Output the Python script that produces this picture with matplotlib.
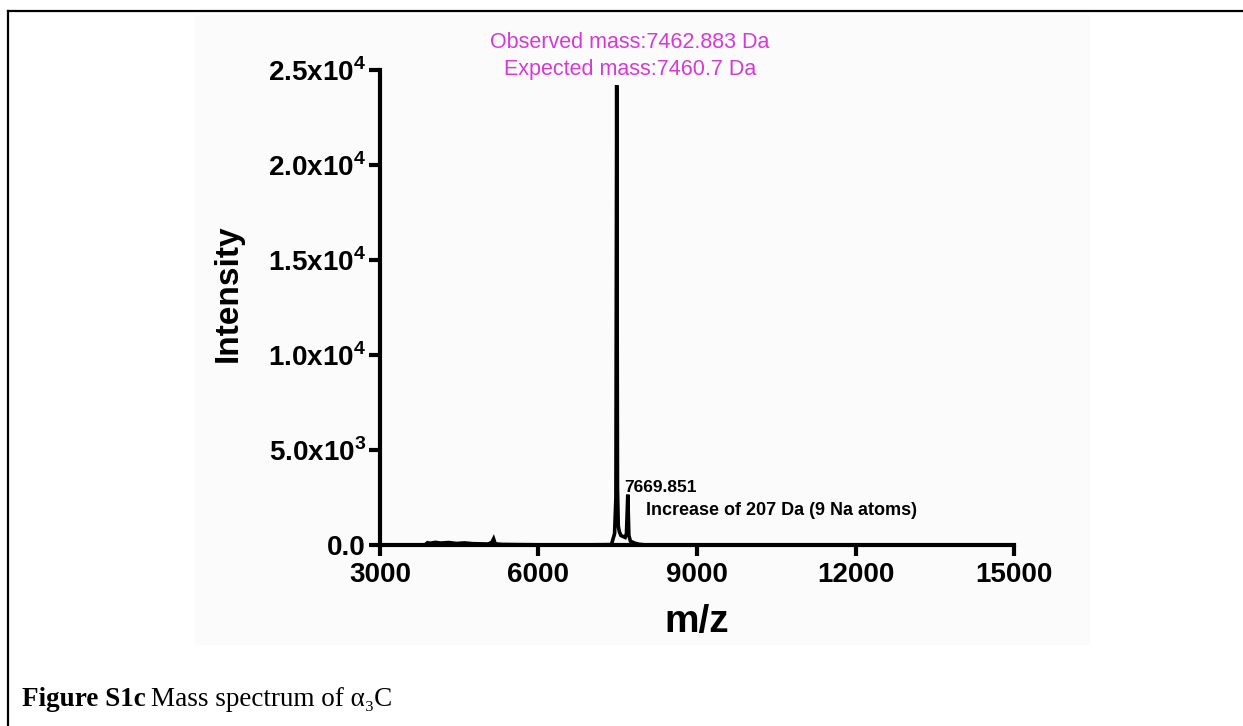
import matplotlib
matplotlib.use('Agg')
import matplotlib.pyplot as plt
from matplotlib.patches import Rectangle
from matplotlib.lines import Line2D

plt.rcParams['font.family'] = ['Liberation Sans', 'DejaVu Sans']
plt.rcParams['mathtext.fontset'] = 'custom'
plt.rcParams['mathtext.bf'] = 'Liberation Sans:bold'
plt.rcParams['mathtext.rm'] = 'Liberation Sans'

# spectrum (m/z, intensity)
mz = [3850, 3900, 3950, 4050, 4150, 4300, 4450, 4600, 4750, 4900, 5050, 5120, 5150, 5180,
      5300, 5600, 6000, 6500, 7000, 7380, 7440, 7465, 7480, 7495, 7510, 7530, 7560,
      7600, 7640, 7665, 7690, 7710, 7740, 7780, 7820, 7900, 8000, 9000, 12000, 15000]
intensity = [0, 120, 90, 140, 100, 130, 80, 110, 70, 60, 50, 150, 320, 60,
             30, 20, 10, 10, 10, 20, 600, 2500, 24200, 3000, 1000, 700, 500,
             450, 400, 600, 2650, 500, 200, 150, 100, 40, 10, 0, 0, 0]

x_ticks = [3000, 6000, 9000, 12000, 15000]
x_tick_labels = ['3000', '6000', '9000', '12000', '15000']
y_ticks = [0, 5000, 10000, 15000, 20000, 25000]
y_tick_labels = ['0.0', r'5.0x10$^{\mathbf{3}}$', r'1.0x10$^{\mathbf{4}}$',
                 r'1.5x10$^{\mathbf{4}}$', r'2.0x10$^{\mathbf{4}}$', r'2.5x10$^{\mathbf{4}}$']

fig = plt.figure(figsize=(12.43, 7.26), dpi=100)

# faint grey panel behind the chart and the page frame
fig.patches.append(Rectangle((0.157, 0.112), 0.72, 0.867, transform=fig.transFigure,
                             facecolor='#fbfbfb', edgecolor='none', zorder=-10))
fig.lines.append(Line2D([0.0064, 1.0], [0.985, 0.985], transform=fig.transFigure, color='black', lw=1.6))
fig.lines.append(Line2D([0.0064, 0.0064], [0.0, 0.985], transform=fig.transFigure, color='black', lw=1.6))

ax = fig.add_axes([0.3057, 0.2493, 0.5101, 0.6543])
ax.set_facecolor('none')
ax.plot(mz, intensity, color='black', lw=2.6, solid_joinstyle='miter')

ax.set_xlim(3000, 15000)
ax.set_ylim(0, 25000)
ax.set_xticks(x_ticks)
ax.set_xticklabels(x_tick_labels)
ax.set_yticks(y_ticks)
ax.set_yticklabels(y_tick_labels)
ax.tick_params(axis='both', length=8, width=3, labelsize=20)
ax.tick_params(axis='x', pad=4)
ax.tick_params(axis='y', pad=2)
for lab in ax.get_xticklabels() + ax.get_yticklabels():
    lab.set_fontweight('bold')

for side in ['top', 'right']:
    ax.spines[side].set_visible(False)
for side in ['left', 'bottom']:
    ax.spines[side].set_linewidth(3)

ax.set_ylabel('Intensity', fontsize=24, fontweight='bold')
ax.yaxis.set_label_coords(-0.215, 0.53)
ax.set_xlabel('m/z', fontsize=28, fontweight='bold')
ax.xaxis.set_label_coords(0.5, -0.125)

# annotations
ax.text(7732, 26450, 'Observed mass:7462.883 Da', color='#d63ad6', fontsize=15.5,
        ha='center', va='center', clip_on=False)
ax.text(7732, 25000, 'Expected mass:7460.7 Da', color='#d63ad6', fontsize=15.5,
        ha='center', va='center', clip_on=False)
ax.text(7618, 3050, '7669.851', fontsize=12.5, fontweight='bold', ha='left', va='center')
ax.text(8035, 1790, 'Increase of 207 Da (9 Na atoms)', fontsize=13, fontweight='bold',
        ha='left', va='center')

# caption
t1 = fig.text(0.0177, 0.036, 'Figure S1c', fontsize=19.5, fontweight='bold',
              family=['Liberation Serif', 'DejaVu Serif'], va='center')
fig.canvas.draw()
bb = t1.get_window_extent()
fig.text(bb.x1 / fig.bbox.width + 0.004, 0.036, 'Mass spectrum of α₃C', fontsize=19.5,
         family=['Liberation Serif', 'DejaVu Serif'], va='center')

fig.savefig('out.png', dpi=100)
